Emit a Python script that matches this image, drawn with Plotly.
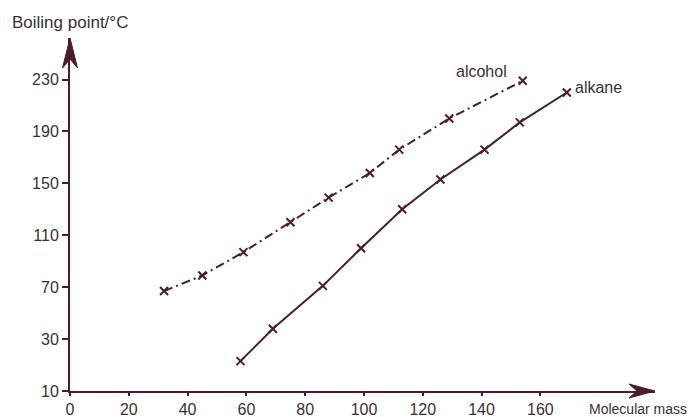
import plotly.graph_objects as go

# Data
alcohol_mass = [32, 45, 59, 75, 88, 102, 112, 129, 154]
alcohol_bp = [67, 79, 97, 120, 139, 158, 176, 200, 229]
alkane_mass = [58, 69, 86, 99, 113, 126, 141, 153, 169]
alkane_bp = [13, 38, 71, 100, 130, 153, 176, 197, 220]

x_ticks = [0, 20, 40, 60, 80, 100, 120, 140, 160]
y_tickvals = [-10, 30, 70, 110, 150, 190, 230]
y_ticktext = ["10", "30", "70", "110", "150", "190", "230"]

X_MAX = 199
Y_MIN, Y_MAX = -10, 262

INK = "#4a1d2c"
TXT = "#3a3034"
FONT = "Liberation Sans, Arial, sans-serif"

fig = go.Figure()
fig.add_trace(go.Scatter(
    x=alcohol_mass, y=alcohol_bp, mode="lines+markers",
    line=dict(color=INK, width=2, dash="9px,4px,2px,4px"),
    marker=dict(symbol="x-thin-open", size=8, line=dict(color=INK, width=2)),
    showlegend=False, cliponaxis=False,
))
fig.add_trace(go.Scatter(
    x=alkane_mass, y=alkane_bp, mode="lines+markers",
    line=dict(color=INK, width=2),
    marker=dict(symbol="x-thin-open", size=8, line=dict(color=INK, width=2)),
    showlegend=False, cliponaxis=False,
))

# axis arrowheads (pixel-sized paths anchored at the axis ends, paper-referenced so not clipped)
fig.add_shape(type="path", xref="paper", yref="paper", xsizemode="pixel", ysizemode="pixel",
              xanchor=0, yanchor=1, path="M0,0 L-7.5,-30 L0,-21 L7.5,-30 Z",
              fillcolor=INK, line=dict(color=INK, width=1), layer="above")
fig.add_shape(type="path", xref="paper", yref="paper", xsizemode="pixel", ysizemode="pixel",
              xanchor=1, yanchor=0, path="M0,0 L-26,7 L-18,0 L-26,-7 Z",
              fillcolor=INK, line=dict(color=INK, width=1), layer="above")

# series labels
fig.add_annotation(x=140, y=236, xref="x", yref="y", text="alcohol", showarrow=False,
                   font=dict(family=FONT, size=16, color=TXT))
fig.add_annotation(x=171, y=224, xref="x", yref="y", text="alkane", showarrow=False, xanchor="left",
                   font=dict(family=FONT, size=16, color=TXT))

# axis titles
fig.add_annotation(x=-0.103, y=1.045, xref="paper", yref="paper", text="Boiling point/°C",
                   showarrow=False, xanchor="left", yanchor="middle",
                   font=dict(family=FONT, size=17, color=TXT))
fig.add_annotation(x=0.884, y=-0.051, xref="paper", yref="paper", text="Molecular mass",
                   showarrow=False, xanchor="left", yanchor="middle",
                   font=dict(family=FONT, size=14, color=TXT))

fig.update_xaxes(range=[0, X_MAX], tickvals=x_ticks, showgrid=False, zeroline=False,
                 showline=True, linecolor=INK, linewidth=2,
                 ticks="outside", ticklen=3, tickwidth=1.5, tickcolor=INK,
                 automargin=False,
                 tickfont=dict(family=FONT, size=16, color=TXT))
fig.update_yaxes(range=[Y_MIN, Y_MAX], tickvals=y_tickvals, ticktext=y_ticktext, showgrid=False,
                 zeroline=False, showline=True, linecolor=INK, linewidth=2,
                 ticks="outside", ticklen=6, tickwidth=1.5,
                 automargin=False,
                 tickcolor=INK, tickfont=dict(family=FONT, size=16, color=TXT))

# the page body adds an 8px offset, so the figure is sized/margined to compensate
fig.update_layout(
    width=688, height=409,
    margin=dict(l=62, r=41, t=30, b=26),
    plot_bgcolor="white", paper_bgcolor="white",
)

fig.write_html("out.html")
